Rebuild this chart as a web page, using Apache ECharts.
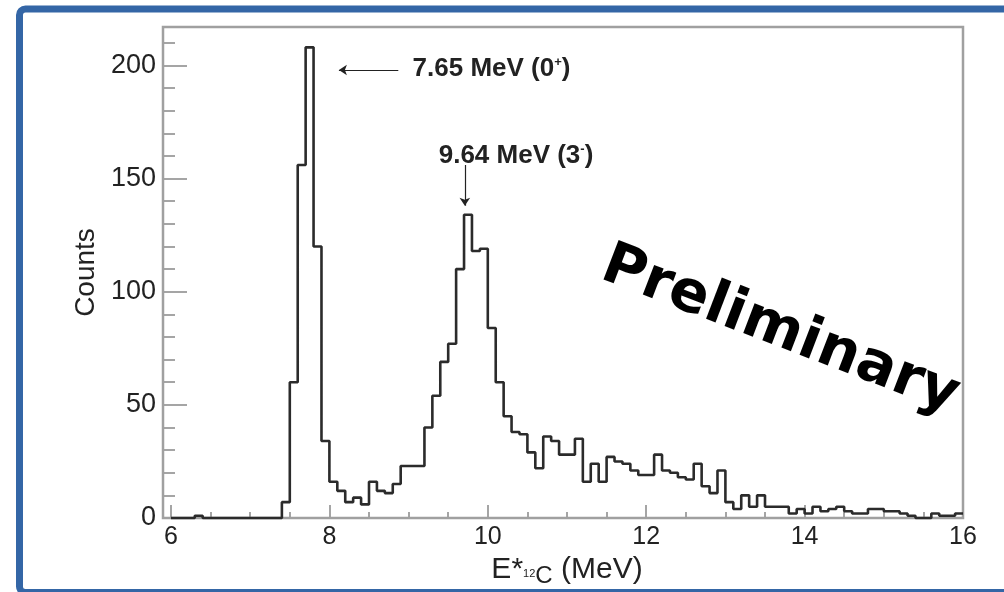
<!DOCTYPE html>
<html>
<head>
<meta charset="utf-8">
<script src="https://cdn.jsdelivr.net/npm/echarts@6/dist/echarts.min.js"></script>
<style>
html,body{margin:0;padding:0;background:#fff;}
#chart{width:1004px;height:592px;}
</style>
</head>
<body>
<div id="chart"></div>
<script>
// Lower edges of the 0.1 MeV bins (MeV)
const binLow = [6.0,6.1,6.2,6.3,6.4,6.5,6.6,6.7,6.8,6.9,
  7.0,7.1,7.2,7.3,7.4,7.5,7.6,7.7,7.8,7.9,
  8.0,8.1,8.2,8.3,8.4,8.5,8.6,8.7,8.8,8.9,
  9.0,9.1,9.2,9.3,9.4,9.5,9.6,9.7,9.8,9.9,
  10.0,10.1,10.2,10.3,10.4,10.5,10.6,10.7,10.8,10.9,
  11.0,11.1,11.2,11.3,11.4,11.5,11.6,11.7,11.8,11.9,
  12.0,12.1,12.2,12.3,12.4,12.5,12.6,12.7,12.8,12.9,
  13.0,13.1,13.2,13.3,13.4,13.5,13.6,13.7,13.8,13.9,
  14.0,14.1,14.2,14.3,14.4,14.5,14.6,14.7,14.8,14.9,
  15.0,15.1,15.2,15.3,15.4,15.5,15.6,15.7,15.8,15.9];
const binWidth = 0.1;
// Counts per bin
const counts = [0,0,0,1,0,0,0,0,0,0,
  0,0,0,0,7,60,156,208,120,34,
  16,12,7,9,6,16,12,11,15,23,
  23,23,40,54,69,77,110,134,118,119,
  84,60,45,38,37,29,22,36,34,28,
  28,35,16,24,16,27,25,24,21,19,
  19,28,21,20,18,17,24,14,11,21,
  7,4,10,5,10,5,5,5,2,4,
  2,5,3,4,5,3,2,2,4,4,
  3,3,2,1,0,0,2,1,1,2];
const xTicks = [6,8,10,12,14,16];
const yTicks = [0,50,100,150,200];
const peakA = {label:'7.65 MeV (0', sup:'+', arrowFrom:[8.87,198], arrowTo:[8.12,198], text:[9.05,198.5]};
const peakB = {label:'9.64 MeV (3', sup:'-', arrowFrom:[9.71,156], arrowTo:[9.71,138], text:[9.38,160]};

const histData = [[binLow[0], counts[0]]];
for (let i = 0; i < binLow.length; i++) histData.push([binLow[i] + binWidth/2, counts[i]]);
histData.push([binLow[binLow.length-1] + binWidth, counts[counts.length-1]]);

const FONT = '"Liberation Sans", Arial, sans-serif';
const chart = echarts.init(document.getElementById('chart'), null, {renderer:'canvas'});
const annRich = {
  a:{fontSize:26, fontWeight:'bold', fontFamily:FONT, color:'#222'},
  s:{fontSize:13, fontWeight:'bold', fontFamily:FONT, color:'#222', verticalAlign:'top', padding:[0,0,12,0]}
};
chart.setOption({
  animation:false,
  backgroundColor:'#fff',
  grid:{left:171, right:41, top:27, bottom:74, containLabel:false, outerBoundsMode:'none'},
  xAxis:[
    {type:'value', min:6, max:16, interval:2, position:'bottom',
     axisLine:{show:false}, splitLine:{show:false},
     axisTick:{show:true, inside:true, length:13, lineStyle:{color:'#888', width:1.5}},
     axisLabel:{fontSize:25, color:'#222', fontFamily:FONT, margin:7,
       formatter:v => xTicks.includes(v) ? String(v) : ''},
     name:'{e|E*}{n|12}{c|C}{e| (MeV)}', nameLocation:'middle', nameGap:30,
     nameTextStyle:{rich:{
       e:{fontSize:30, fontFamily:FONT, color:'#222'},
       n:{fontSize:11, fontFamily:FONT, color:'#222', padding:[8,0,0,0]},
       c:{fontSize:24, fontFamily:FONT, color:'#222', padding:[12,0,0,0]}
     }}},
    {type:'value', min:6, max:16, interval:0.5, position:'bottom',
     axisLine:{show:false}, splitLine:{show:false}, axisLabel:{show:false},
     axisTick:{show:true, inside:true, length:6, lineStyle:{color:'#888', width:1.5}}}
  ],
  yAxis:[
    {type:'value', min:0, max:217, interval:50, position:'left', offset:8,
     axisLine:{show:false}, splitLine:{show:false},
     axisTick:{show:true, inside:true, length:24, lineStyle:{color:'#888', width:1.5}},
     axisLabel:{fontSize:27, color:'#222', fontFamily:FONT, margin:7,
       formatter:v => yTicks.includes(v) ? String(v) : ''},
     name:'Counts', nameLocation:'middle', nameGap:63, nameRotate:90,
     nameTextStyle:{fontSize:28, color:'#222', fontFamily:FONT}},
    {type:'value', min:0, max:217, interval:10, position:'left', offset:8,
     axisLine:{show:false}, splitLine:{show:false}, axisLabel:{show:false},
     axisTick:{show:true, inside:true, length:12, lineStyle:{color:'#888', width:1.5}}}
  ],
  series:[{
    type:'line', xAxisIndex:0, yAxisIndex:0, step:'middle', showSymbol:false, symbol:'none',
    data:histData, clip:false,
    lineStyle:{color:'#2b2b2b', width:2.6}, z:5,
    markLine:{silent:true, symbol:['none','arrow'], symbolSize:8,
      lineStyle:{color:'#222', width:1.2, type:'solid'}, label:{show:false},
      data:[[{coord:peakA.arrowFrom},{coord:peakA.arrowTo}],
            [{coord:peakB.arrowFrom},{coord:peakB.arrowTo}]]},
    markPoint:{silent:true, symbol:'circle', symbolSize:0,
      data:[
        {coord:peakA.text, label:{show:true, position:'right', distance:0,
          formatter:'{a|'+peakA.label+'}{s|'+peakA.sup+'}{a|)}', rich:annRich}},
        {coord:peakB.text, label:{show:true, position:'right', distance:0,
          formatter:'{a|'+peakB.label+'}{s|'+peakB.sup+'}{a|)}', rich:annRich}}
      ]}
  }],
  graphic:[
    {type:'rect', z:1, shape:{x:163, y:27, width:800, height:491},
     style:{fill:'none', stroke:'#a0a0a0', lineWidth:2.5}},
    {type:'text', z:10, x:780, y:331, rotation:-21*Math.PI/180,
     style:{text:'Preliminary', font:'bold 58px "DejaVu Sans"', fill:'#000', align:'center', verticalAlign:'middle'}},
    {type:'rect', z:20, shape:{x:19.5, y:9, width:1010, height:583.5, r:6},
     style:{fill:'none', stroke:'#3466a6', lineWidth:7}}
  ]
});
</script>
</body>
</html>
